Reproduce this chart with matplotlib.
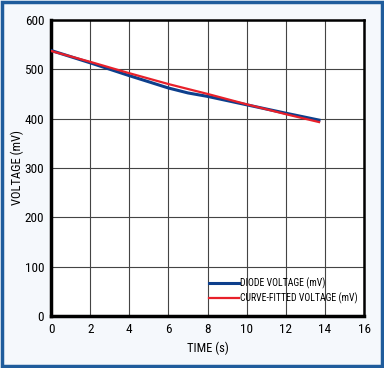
import matplotlib
matplotlib.use("Agg")
import matplotlib.pyplot as plt
from matplotlib.patches import Rectangle

plt.rcParams['font.family'] = ['Roboto Condensed', 'Archivo Narrow', 'Liberation Sans', 'DejaVu Sans']

time_s = [0, 2, 4, 6, 7, 8, 10, 12, 13.7]
diode_mv = [538, 513, 487, 462, 452, 445, 428, 411, 397]
fit_time = [0, 2, 4, 6, 8, 10, 12, 13.7]
fit_mv = [537, 515, 492, 470, 450, 429, 409, 393]
xticks = [0, 2, 4, 6, 8, 10, 12, 14, 16]
yticks = [0, 100, 200, 300, 400, 500, 600]

fig = plt.figure(figsize=(3.84, 3.68), dpi=100)
fig.patch.set_facecolor('#f5f8fc')
fig.patches.append(Rectangle((0.004, 0.005), 0.992, 0.99, transform=fig.transFigure,
                             fill=False, edgecolor='#1f5c9c', linewidth=2.5, zorder=10))
ax = fig.add_axes([0.133, 0.141, 0.815, 0.805])
ax.set_facecolor('white')
ax.plot(time_s, diode_mv, color='#0d3f8c', lw=2.2, label='DIODE VOLTAGE (mV)', zorder=3)
ax.plot(fit_time, fit_mv, color='#e8202a', lw=1.6, label='CURVE-FITTED VOLTAGE (mV)', zorder=4)
ax.set_xlim(0, 16)
ax.set_ylim(0, 600)
ax.set_xticks(xticks)
ax.set_yticks(yticks)
ax.grid(True, color='#444444', lw=0.8)
ax.set_axisbelow(True)
ax.tick_params(length=0, labelsize=9.5, pad=5)
for s in ['left', 'bottom']:
    ax.spines[s].set_linewidth(2.5)
for s in ['top', 'right']:
    ax.spines[s].set_linewidth(1.8)
ax.set_xlabel('TIME (s)', fontsize=9)
ax.set_ylabel('VOLTAGE (mV)', fontsize=9)
ax.xaxis.set_label_coords(0.5, -0.087)
ax.yaxis.set_label_coords(-0.085, 0.5)
leg = ax.legend(loc='lower right', bbox_to_anchor=(1.0, 0.018), frameon=False, fontsize=7,
                handlelength=3.0, handletextpad=0.1, labelspacing=0.35, borderaxespad=0.3)
fig.savefig('out.png', dpi=100, facecolor=fig.get_facecolor())
